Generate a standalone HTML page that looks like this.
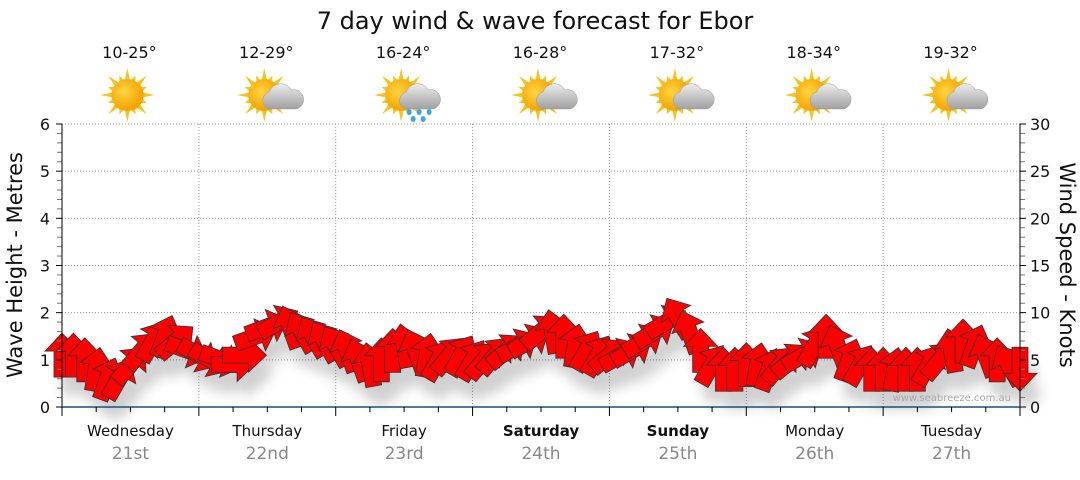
<!DOCTYPE html>
<html><head><meta charset="utf-8"><style>
body{margin:0;background:#fff;font-family:"Liberation Sans",sans-serif}
svg text{font-family:"DejaVu Sans","Liberation Sans",sans-serif}
</style></head><body>
<svg id="c" width="1080" height="475" xmlns="http://www.w3.org/2000/svg">
<defs>
<radialGradient id="sun" cx="40%" cy="40%" r="60%"><stop offset="0" stop-color="#ffd640"/><stop offset="1" stop-color="#f5a000"/></radialGradient>
<linearGradient id="cloud" x1="0" y1="0" x2="0" y2="1"><stop offset="0" stop-color="#ececec"/><stop offset="1" stop-color="#a0a0a0"/></linearGradient>
<filter id="sh" x="-50%" y="-50%" width="200%" height="200%"><feGaussianBlur stdDeviation="6"/></filter>
</defs>
<text x="535" y="29" font-size="24" text-anchor="middle" fill="#111">7 day wind &amp; wave forecast for Ebor</text>
<g id="grid"></g><g id="icons"></g><g id="shadows" filter="url(#sh)" opacity="0.18"></g><g id="arrows"></g><g id="axes"></g>
<text x="1011" y="401" font-size="10" text-anchor="end" fill="#aaa">www.seabreeze.com.au</text>
<text transform="translate(22,265) rotate(-90)" font-size="21" text-anchor="middle" fill="#111">Wave Height - Metres</text>
<text transform="translate(1060,265) rotate(90)" font-size="21" text-anchor="middle" fill="#111">Wind Speed - Knots</text>
</svg>
<script>
const days=["Wednesday","Thursday","Friday","Saturday","Sunday","Monday","Tuesday"];
const dates=["21st","22nd","23rd","24th","25th","26th","27th"];
const boldDays=[false,false,false,true,true,false,false];
const temps=["10-25°","12-29°","16-24°","16-28°","17-32°","18-34°","19-32°"];
const weather=["sun","cloud","rain","cloud","cloud","cloud","cloud"];
const waveTicks=[0,1,2,3,4,5,6];
const windTicks=[0,5,10,15,20,25,30];
const windSpeed=[5.5,5.5,5,4,3,3,4.5,6,7,7.5,7,6,
5.5,5,5,4.5,5.5,7.5,8.5,9,8.5,8,7.5,7,
6.5,6,5,4.5,5,6,6.5,6,5.5,5,5.5,5.5,
5,5,5.5,6,6.5,7,8,8,7.5,6.5,6,5.5,
5.5,5.5,6,7,8,9,9.5,8,6,4.5,4,4,
4.5,4.5,4,4.5,5,5.5,6.5,7.5,6.5,5,4.5,4,
4,4,4,4,4.5,5,6,7,6.5,5.5,5,4.5,4];
const windDir=[-90,-90,-90,-80,-70,-60,-50,-50,-60,-70,-40,20,
30,30,20,0,0,-20,-20,-30,-110,-120,-120,-120,
-120,-110,-110,-100,-90,-90,-100,-110,-80,-60,-50,-60,
-60,-50,-50,-40,-30,-30,-40,-100,-90,-80,-60,-60,
-40,-30,-30,-30,-30,-30,-120,-110,-90,-60,-90,-90,
-90,-80,-70,-50,-40,-30,-60,-90,-110,-70,-60,-90,
-90,-80,-90,-90,-60,-50,-100,-90,-70,-110,-90,-120,90];
const L=62,R=1020,T=124,B=407,NS="http://www.w3.org/2000/svg";
const xDay=d=>L+(R-L)*d/7;
const yWave=v=>B-(B-T)*v/6;
const yWind=k=>B-(B-T)*k/30;
const xIdx=i=>L+(R-L)*i/(windSpeed.length-1);
function mk(tag,attrs,parent){const e=document.createElementNS(NS,tag);for(const k in attrs)e.setAttribute(k,attrs[k]);parent.appendChild(e);return e;}
const grid=document.getElementById('grid'),axes=document.getElementById('axes'),icons=document.getElementById('icons');
waveTicks.forEach(v=>{if(v>0){const g=mk('line',{x1:L,x2:R,y1:yWave(v),y2:yWave(v),stroke:'#999','stroke-dasharray':'1,2'},grid);}
 const t=mk('text',{x:50,y:yWave(v)+6,'font-size':16,'text-anchor':'end',fill:'#111'},axes);t.textContent=v;
 mk('line',{x1:L-6,x2:L,y1:yWave(v),y2:yWave(v),stroke:'#000'},axes);});
for(let i=1;i<30;i++){if(i%5)mk('line',{x1:L-5,x2:L,y1:yWave(i/5),y2:yWave(i/5),stroke:'#777'},axes);}
windTicks.forEach(v=>{const t=mk('text',{x:1030,y:yWind(v)+6,'font-size':16,fill:'#111'},axes);t.textContent=v;
 mk('line',{x1:R,x2:R+6,y1:yWind(v),y2:yWind(v),stroke:'#000'},axes);});
for(let i=1;i<30;i++){if(i%5)mk('line',{x1:R,x2:R+5,y1:yWind(i),y2:yWind(i),stroke:'#777'},axes);}
mk('line',{x1:L,x2:L,y1:T,y2:B,stroke:'#000'},axes);
mk('line',{x1:R,x2:R,y1:T,y2:B,stroke:'#000'},axes);
mk('line',{x1:L,x2:R,y1:B,y2:B,stroke:'#1a4f7a','stroke-width':1.5},axes);
for(let i=0;i<=28;i++){const x=L+(R-L)*i/28;mk('line',{x1:x,x2:x,y1:B,y2:B+(i%4?5:9),stroke:'#000'},axes);}
days.forEach((d,i)=>{
 if(i>0){const g=mk('line',{x1:xDay(i),x2:xDay(i),y1:T,y2:B,stroke:'#999','stroke-dasharray':'1,2'},grid);}
 const cx=(xDay(i)+xDay(i+1))/2;
 const t=mk('text',{x:cx,y:436,'font-size':15,'text-anchor':'middle',fill:'#111','font-weight':boldDays[i]?'bold':'normal'},axes);t.textContent=d;
 const t2=mk('text',{x:cx,y:459,'font-size':17,'text-anchor':'middle',fill:'#888'},axes);t2.textContent=dates[i];
 const t3=mk('text',{x:cx-1,y:58,'font-size':16,'text-anchor':'middle',fill:'#111'},icons);t3.textContent=temps[i];
 const g=mk('g',{},icons);
 const sx=cx-3,sy=95;
 for(let r=0;r<16;r++){const a=r*Math.PI/8,len=r%2?21:27;
  const p=[[sx+Math.cos(a)*len,sy+Math.sin(a)*len],[sx+Math.cos(a+0.17)*15,sy+Math.sin(a+0.17)*15],[sx+Math.cos(a-0.17)*15,sy+Math.sin(a-0.17)*15]];
  mk('polygon',{points:p.map(q=>q.join(',')).join(' '),fill:'#f7c21a'},g);}
 mk('circle',{cx:sx,cy:sy,r:16,fill:'url(#sun)'},g);
 if(weather[i]!=='sun'){
  mk('path',{d:`M${sx+4} ${sy+14} a9 9 0 0 1 1-17 a12 12 0 0 1 22-2 a9 9 0 0 1 5 19 z`,fill:'url(#cloud)',stroke:'#999','stroke-width':0.5},g);}
 if(weather[i]==='rain'){[[8,17],[18,17],[28,17],[12,24],[22,24]].forEach(q=>mk('ellipse',{cx:sx+q[0],cy:sy+q[1],rx:2.5,ry:3,fill:'#3aa8e0'},g));}
});
const arr=document.getElementById('arrows'),sh=document.getElementById('shadows');
const shape="-22,-8 4,-8 4,-17 22,0 4,17 4,8 -22,8";
windSpeed.forEach((k,i)=>{
 const x=xIdx(i),y=yWind(k);
 mk('polygon',{points:shape,fill:'#000',transform:`translate(${x+8},${y+18}) rotate(${windDir[i]})`},sh);
 const p=mk('polygon',{points:shape,fill:'#ff0000',stroke:'#333','stroke-width':0.8,transform:`translate(${x},${y}) rotate(${windDir[i]})`},arr);
 
 
});
</script>
</body></html>
